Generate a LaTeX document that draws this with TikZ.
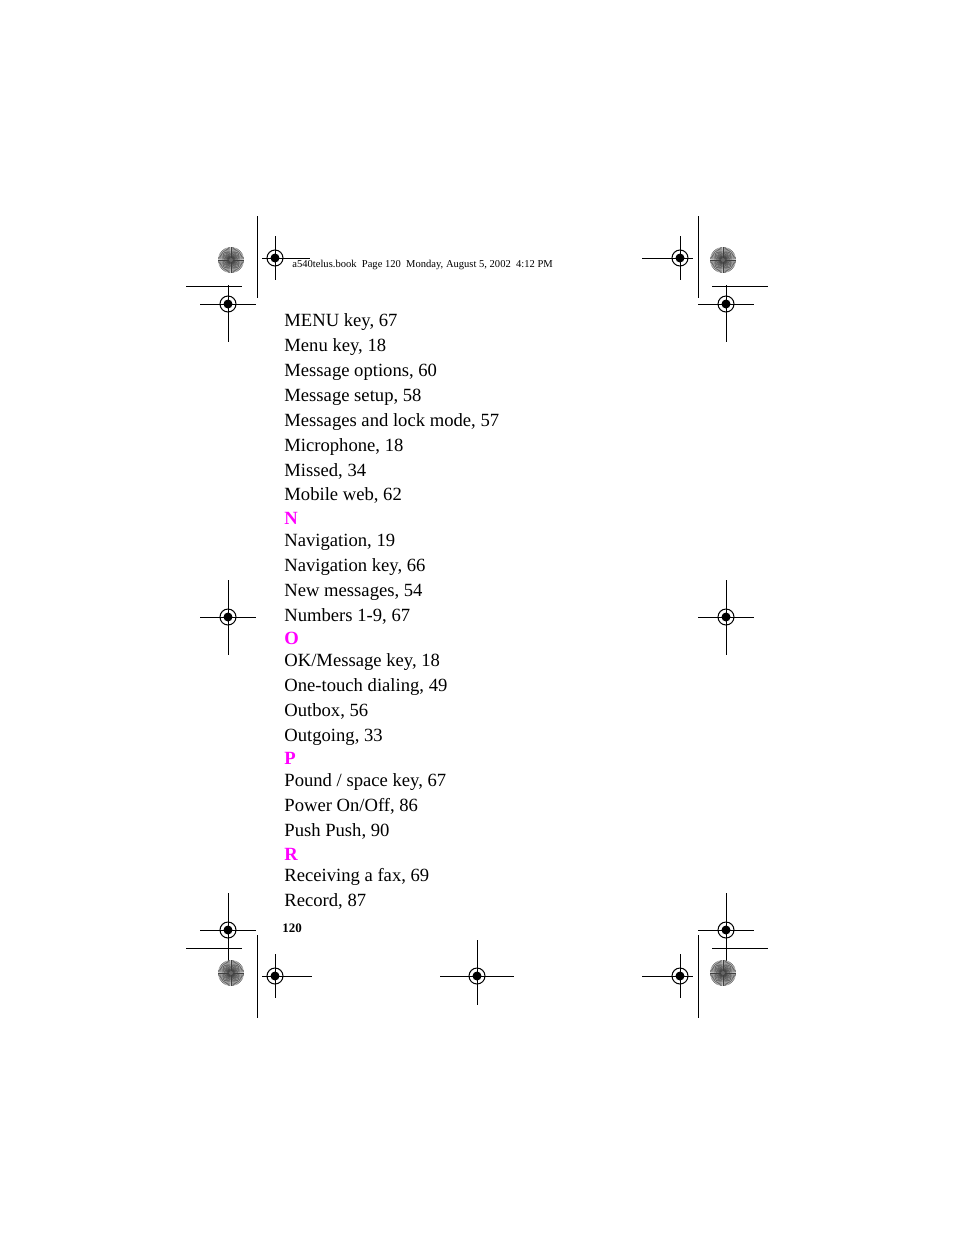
\documentclass[tikz,border=0pt]{standalone}
\usepackage{fontspec}
\setmainfont{Liberation Serif}
\usetikzlibrary{calc}
\definecolor{pmag}{RGB}{255,0,255}
\begin{document}
\begin{tikzpicture}[x=1bp,y=-1bp,line width=0.8bp,
  entry/.style={anchor=base west,inner sep=0pt,font=\fontsize{18.7}{21}\selectfont},
  letter/.style={anchor=base west,inner sep=0pt,font=\fontsize{18.7}{21}\selectfont\bfseries,text=pmag}]
\useasboundingbox (0,0) rectangle (954,1235);
\newcommand\regmark[3]{% x y name
  \coordinate (#3) at (#1,#2);
  \draw[line width=1bp] (#3) circle (8);
  \fill (#3) circle (4.5);
  \draw[white,line width=0.6bp] ($(#3)+(-4.5,0)$) -- ($(#3)+(4.5,0)$) ($(#3)+(0,-4.5)$) -- ($(#3)+(0,4.5)$);
}
\newcommand\spiral[3]{%
  \coordinate (#3) at (#1,#2);
  \fill[gray!40] (#3) circle (13);
  \foreach \a in {0,6,...,354} \draw[line width=0.4bp,black!75] (#3) -- ++(\a:13);
  \fill[black!60] (#3) circle (2);
}
% top-left
\draw (257,216) -- (257,298);
\regmark{275}{258}{rA}\draw (rA)++(0,-22) -- ++(0,44); \draw (rA)++(-13,0) -- ++(48,0);
\spiral{231}{260}{sA}
\regmark{228}{304}{rB}\draw (rB)++(-28,0) -- ++(56,0); \draw (rB)++(0,-19) -- ++(0,57);
\draw (186,286) -- (242,286);
% top-right
\draw (698,216) -- (698,298);
\regmark{680}{258}{rC}\draw (rC)++(0,-22) -- ++(0,44); \draw (rC)++(-38,0) -- ++(51,0);
\spiral{723}{260}{sB}
\regmark{726}{304}{rD}\draw (rD)++(-28,0) -- ++(56,0); \draw (rD)++(0,-19) -- ++(0,57);
\draw (712,286) -- (768,286);
% middle
\regmark{228}{617}{rE}\draw (rE)++(-28,0) -- ++(56,0); \draw (rE)++(0,-37) -- ++(0,75);
\regmark{726}{617}{rF}\draw (rF)++(-28,0) -- ++(56,0); \draw (rF)++(0,-37) -- ++(0,75);
% bottom
\regmark{228}{930}{rG}\draw (rG)++(-28,0) -- ++(56,0); \draw (rG)++(0,-37) -- ++(0,75);
\draw (186,948) -- (242,948);
\regmark{726}{930}{rH}\draw (rH)++(-28,0) -- ++(56,0); \draw (rH)++(0,-37) -- ++(0,75);
\draw (712,948) -- (768,948);
\draw (257,935) -- (257,1018);
\draw (698,935) -- (698,1018);
\spiral{231}{973}{sC}
\spiral{723}{973}{sD}
\regmark{275}{976}{rI}\draw (rI)++(-13,0) -- ++(50,0); \draw (rI)++(0,-22) -- ++(0,44);
\regmark{477}{976}{rJ}\draw (rJ)++(-37,0) -- ++(74,0); \draw (rJ)++(0,-36) -- ++(0,65);
\regmark{680}{976}{rK}\draw (rK)++(-38,0) -- ++(51,0); \draw (rK)++(0,-22) -- ++(0,44);
% header
\node[anchor=base west,inner sep=0pt,font=\fontsize{10.6}{12}\selectfont] (hdr) at (292,267) {a540telus.book\ \ Page 120\ \ Monday, August 5, 2002\ \ 4:12 PM};
% entries
\node[entry] (e1) at (284,326) {MENU key, 67};
\node[entry] (e2) at (284,351) {Menu key, 18};
\node[entry] (e3) at (284,376) {Message options, 60};
\node[entry] (e4) at (284,401) {Message setup, 58};
\node[entry] (e5) at (284,426) {Messages and lock mode, 57};
\node[entry] (e6) at (284,451) {Microphone, 18};
\node[entry] (e7) at (284,476) {Missed, 34};
\node[entry] (e8) at (284,500) {Mobile web, 62};
\node[letter] (lN) at (284,524) {N};
\node[entry] (e9) at (284,546) {Navigation, 19};
\node[entry] (e10) at (284,571) {Navigation key, 66};
\node[entry] (e11) at (284,596) {New messages, 54};
\node[entry] (e12) at (284,621) {Numbers 1-9, 67};
\node[letter] (lO) at (284,644) {O};
\node[entry] (e13) at (284,666) {OK/Message key, 18};
\node[entry] (e14) at (284,691) {One-touch dialing, 49};
\node[entry] (e15) at (284,716) {Outbox, 56};
\node[entry] (e16) at (284,741) {Outgoing, 33};
\node[letter] (lP) at (284,764) {P};
\node[entry] (e17) at (284,786) {Pound / space key, 67};
\node[entry] (e18) at (284,811) {Power On/Off, 86};
\node[entry] (e19) at (284,836) {Push Push, 90};
\node[letter] (lR) at (284,860) {R};
\node[entry] (e20) at (284,881) {Receiving a fax, 69};
\node[entry] (e21) at (284,906) {Record, 87};
\node[anchor=base west,inner sep=0pt,font=\fontsize{13}{15}\selectfont\bfseries] (pg) at (282,932) {120};
\end{tikzpicture}
\end{document}
